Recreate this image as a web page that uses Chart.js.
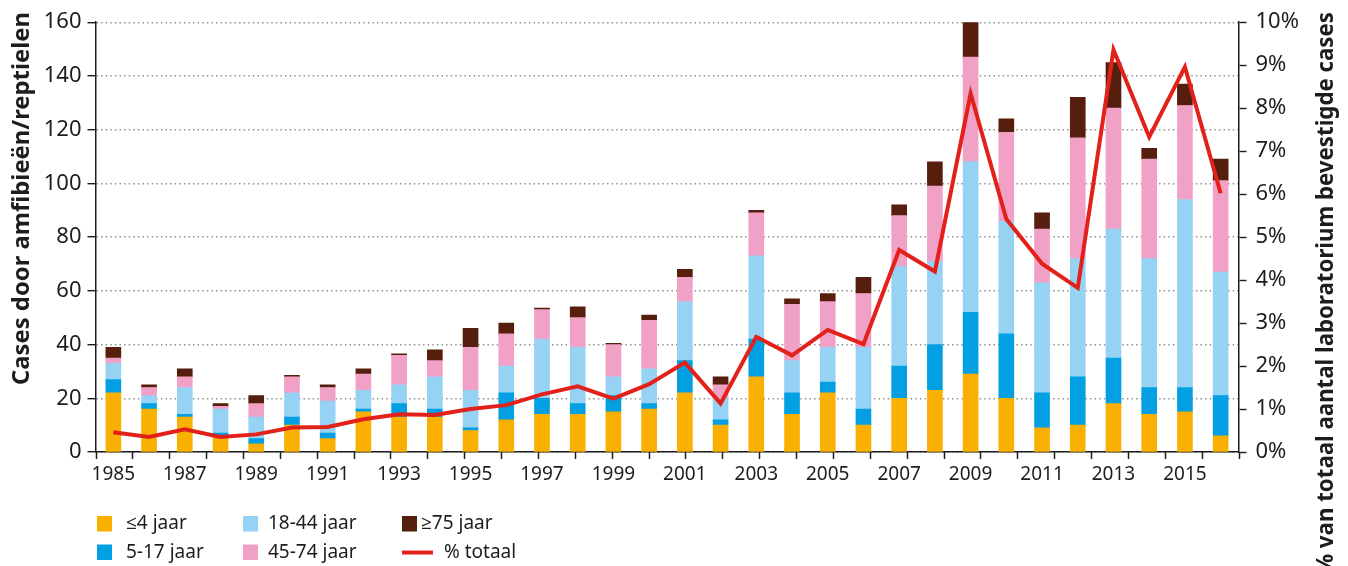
<!DOCTYPE html>
<html lang="nl">
<head>
<meta charset="utf-8">
<title>Cases door amfibieën/reptielen</title>
<script src="https://cdn.jsdelivr.net/npm/chart.js@4/dist/chart.umd.min.js"></script>
<style>
  html, body { margin: 0; padding: 0; background: #fff; }
  #wrap { width: 1348px; height: 566px; position: relative; }
</style>
</head>
<body>
<div id="wrap"><canvas id="grafiek"></canvas></div>
<script>
// jaren
const jaren = ['1985','1986','1987','1988','1989','1990','1991','1992','1993','1994','1995','1996',
  '1997','1998','1999','2000','2001','2002','2003','2004','2005','2006','2007','2008','2009','2010',
  '2011','2012','2013','2014','2015','2016'];

const jaar0tot4   = [22,16,13,6,3,10,5,15,13,13,8,12,14,14,15,16,22,10,28,14,22,10,20,23,29,20,9,10,18,14,15,6];
const jaar5tot17  = [5,2,1,1,2,3,2,1,5,3,1,10,6,4,6,2,12,2,14,8,4,6,12,17,23,24,13,18,17,10,9,15];
const jaar18tot44 = [6,3,10,9,8,9,12,7,7,12,14,10,22,21,7,13,22,8,31,12,13,23,37,31,56,42,41,44,48,48,70,46];
const jaar45tot74 = [2,3,4,1,5,6,5,6,11,6,16,12,11,11,12,18,9,5,16,21,17,20,19,28,39,33,20,45,45,37,35,34];
const jaar75plus  = [4,1,3,1,3,0.5,1,2,0.5,4,7,4,0.6,4,0.5,2,3,3,1,2,3,6,4,9,13,5,6,15,17,4,8,8];

// % van totaal aantal bevestigde cases
const procentTotaal = [0.46,0.35,0.53,0.35,0.41,0.57,0.58,0.76,0.88,0.86,1.0,1.09,1.34,1.53,1.24,1.58,
  2.08,1.13,2.68,2.25,2.84,2.51,4.70,4.20,8.34,5.42,4.38,3.82,9.36,7.33,8.96,6.02];

const tekstKleur = '#1d1d1b';
const lettertype = '"Noto Sans", "Open Sans", sans-serif';

function staaf(label, data, kleur) {
  return {
    type: 'bar', label: label, data: data, backgroundColor: kleur,
    yAxisID: 'y', stack: 'leeftijd', barThickness: 15, order: 1
  };
}

// titels van de assen, van onder naar boven gelezen
const asTitels = {
  id: 'asTitels',
  afterDraw(chart) {
    const ctx = chart.ctx;
    const titels = [
      { tekst: 'Cases door amfibieën/reptielen', x: 22.5, lengte: 373 },
      { tekst: '% van totaal aantal laboratorium bevestigde cases', x: 1326.5, lengte: 562 }
    ];
    titels.forEach(t => {
      ctx.save();
      ctx.font = 'bold 24px ' + lettertype;
      const w = ctx.measureText(t.tekst).width;
      ctx.translate(t.x, 12);
      ctx.rotate(-Math.PI / 2);
      ctx.scale(t.lengte / w, 1);
      ctx.fillStyle = tekstKleur;
      ctx.textAlign = 'right';
      ctx.textBaseline = 'middle';
      ctx.fillText(t.tekst, 0, 0);
      ctx.restore();
    });
  }
};

// streepjes onder de x-as, gelijk verdeeld zoals in het origineel
const xStreepjes = {
  id: 'xStreepjes',
  afterDraw(chart) {
    const ctx = chart.ctx;
    const ca = chart.chartArea;
    const n = jaren.length - 1;
    ctx.save();
    ctx.strokeStyle = tekstKleur;
    ctx.lineWidth = 1.5;
    ctx.beginPath();
    for (let i = 0; i <= n; i++) {
      const x = Math.round(ca.left + i * (ca.right - ca.left) / n) + 0.5;
      ctx.moveTo(x, ca.bottom);
      ctx.lineTo(x, ca.bottom + 7);
    }
    ctx.stroke();
    ctx.restore();
  }
};

// legenda in twee rijen, kolomsgewijs
const legenda = {
  id: 'legenda',
  afterDraw(chart) {
    const ctx = chart.ctx;
    const plekken = [
      { ds: 0, box: 97,  tekst: 126, rij: 0 },
      { ds: 1, box: 97,  tekst: 126, rij: 1 },
      { ds: 2, box: 243, tekst: 268, rij: 0 },
      { ds: 3, box: 243, tekst: 268, rij: 1 },
      { ds: 4, box: 402, tekst: 421, rij: 0 },
      { ds: 5, box: 402, tekst: 444, rij: 1 }
    ];
    const rijY = [524, 552.5];
    ctx.save();
    ctx.font = '19px ' + lettertype;
    ctx.textBaseline = 'middle';
    plekken.forEach(p => {
      const ds = chart.data.datasets[p.ds];
      const y = rijY[p.rij];
      if (ds.type === 'line') {
        ctx.strokeStyle = ds.borderColor;
        ctx.lineWidth = 4;
        ctx.beginPath();
        ctx.moveTo(p.box, y);
        ctx.lineTo(p.box + 31, y);
        ctx.stroke();
      } else {
        ctx.fillStyle = ds.backgroundColor;
        ctx.fillRect(p.box, y - 8, 15, 15.5);
      }
      ctx.fillStyle = tekstKleur;
      ctx.fillText(ds.label, p.tekst, y);
    });
    ctx.restore();
  }
};

const ctx = document.getElementById('grafiek').getContext('2d');
const grafiek = new Chart(ctx, {
  data: {
    labels: jaren,
    datasets: [
      staaf('≤4 jaar', jaar0tot4, '#fab000'),
      staaf('5-17 jaar', jaar5tot17, '#02a0e2'),
      staaf('18-44 jaar', jaar18tot44, '#95d2f4'),
      staaf('45-74 jaar', jaar45tot74, '#f1a1c6'),
      staaf('≥75 jaar', jaar75plus, '#561e0d'),
      {
        type: 'line', label: '% totaal', data: procentTotaal, yAxisID: 'y1',
        borderColor: '#e3211b', borderWidth: 4, pointRadius: 0, tension: 0,
        borderJoinStyle: 'miter', fill: false, order: 0
      }
    ]
  },
  options: {
    responsive: true,
    maintainAspectRatio: false,
    animation: false,
    layout: { padding: { top: 22, left: 0, right: 0, bottom: 0 } },
    plugins: {
      legend: { display: false },
      tooltip: { enabled: false }
    },
    scales: {
      x: {
        type: 'category',
        offset: true,
        stacked: true,
        afterFit: s => { s.height = 114; },
        grid: { display: true, drawOnChartArea: false, drawTicks: true, tickLength: 8, color: 'transparent', tickColor: 'transparent' },
        border: { display: true, color: tekstKleur, width: 1.5 },
        ticks: {
          autoSkip: false, maxRotation: 0, padding: 3, color: tekstKleur,
          font: { family: lettertype, size: 19 },
          callback: (v, i) => (i % 2 === 0 ? jaren[i] : '')
        }
      },
      y: {
        position: 'left',
        stacked: true,
        min: 0, max: 160,
        afterFit: s => { s.width = 95.5; },
        grid: { color: '#8a8a8a', lineWidth: 1.4, tickColor: tekstKleur, tickLength: 8, tickWidth: 1.4 },
        border: { display: true, color: tekstKleur, width: 1.5, dash: [1.4, 3.2] },
        ticks: { stepSize: 20, padding: 6, color: tekstKleur, font: { family: lettertype, size: 22 } }
      },
      y1: {
        position: 'right',
        min: 0, max: 10,
        afterFit: s => { s.width = 1348 - 1238.5; },
        grid: { drawOnChartArea: false, tickColor: tekstKleur, tickLength: 8, tickWidth: 1.4 },
        border: { display: true, color: tekstKleur, width: 1.5 },
        ticks: { stepSize: 1, padding: 9, color: tekstKleur, font: { family: lettertype, size: 22 },
          callback: v => v + '%' }
      }
    }
  },
  plugins: [asTitels, xStreepjes, legenda]
});
</script>
</body>
</html>
